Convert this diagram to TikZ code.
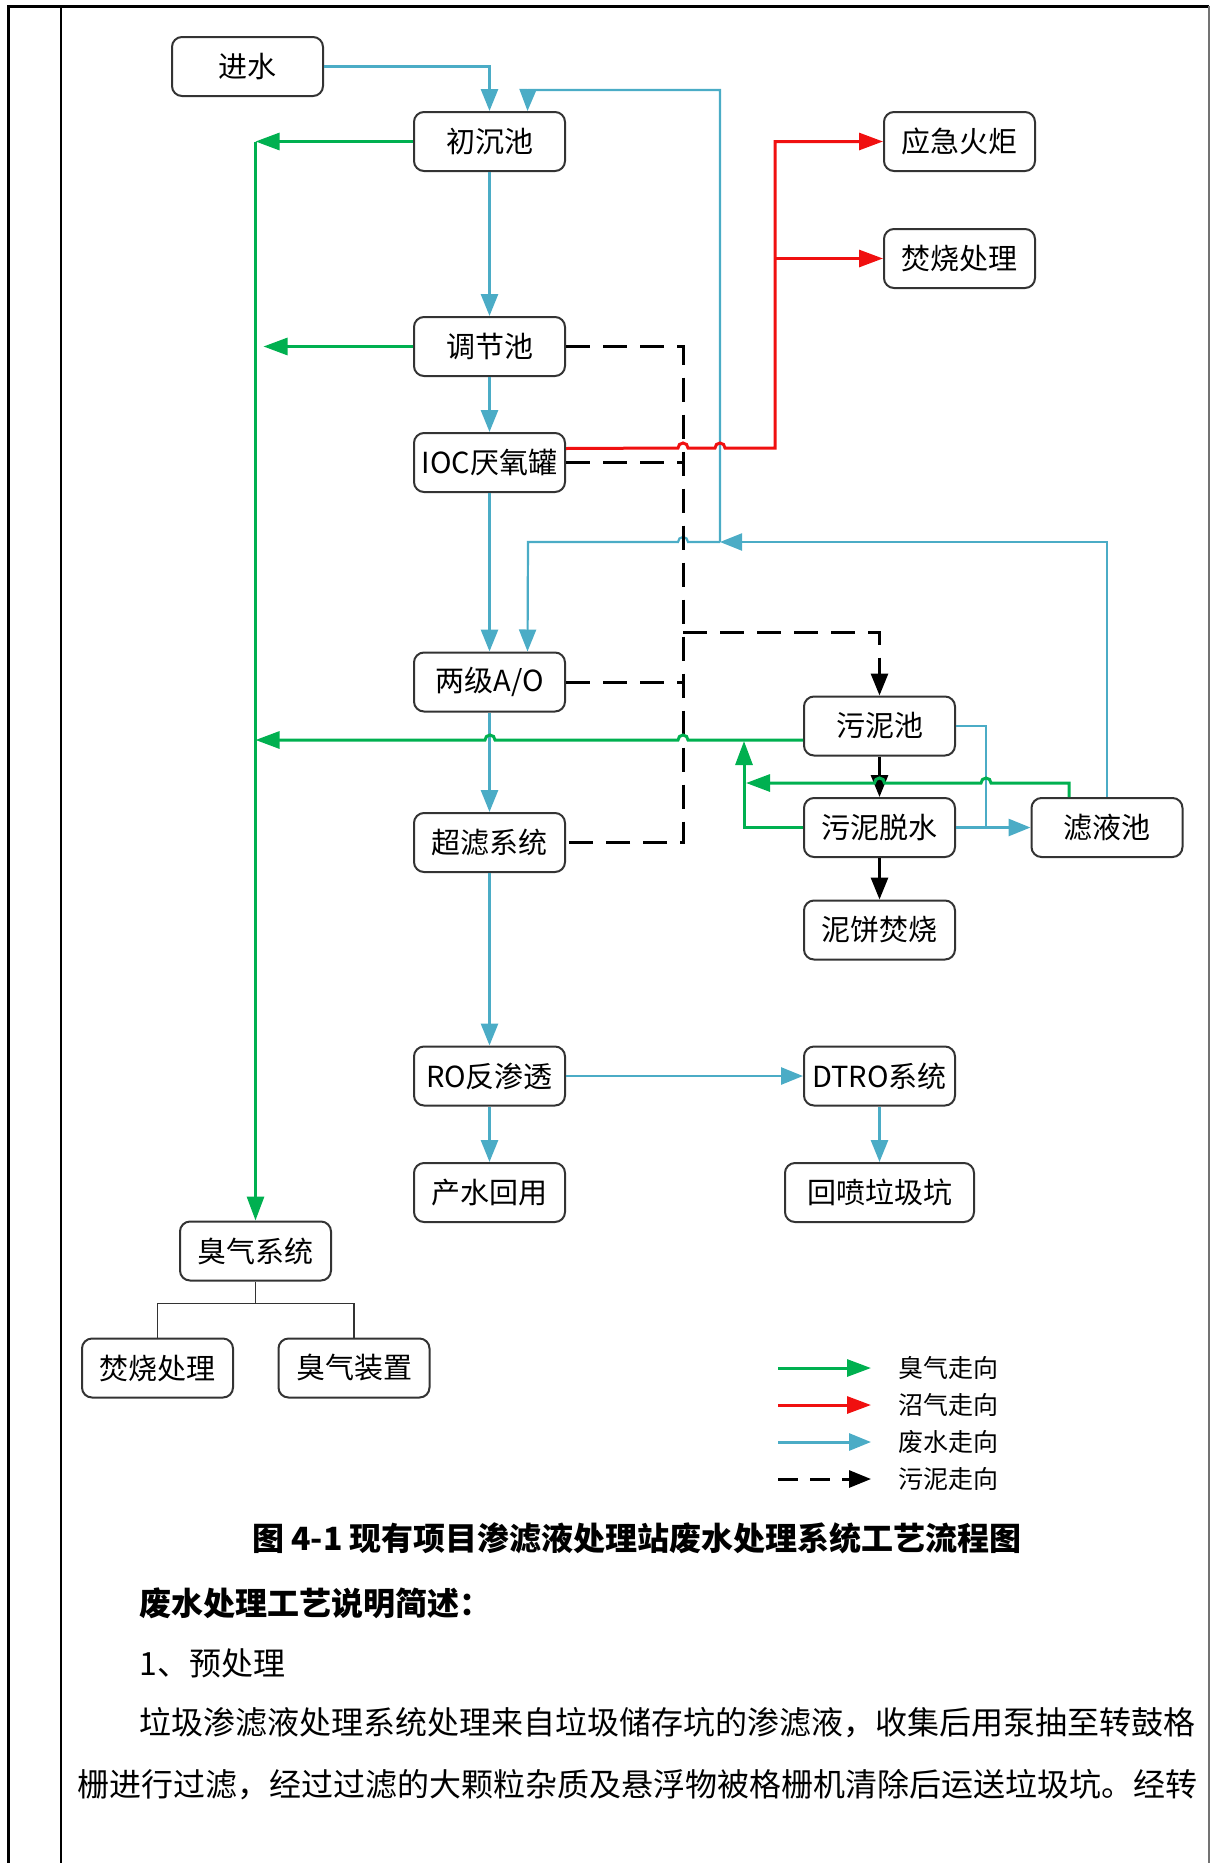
\documentclass[tikz,border=0pt]{standalone}
\usepackage{fontspec}
\setmainfont{Noto Sans CJK SC}
\usetikzlibrary{positioning,arrows.meta}

\definecolor{gasgreen}{HTML}{00B050}
\definecolor{biored}{HTML}{F01010}
\definecolor{waterblue}{HTML}{4BACC6}
\definecolor{boxline}{HTML}{333333}

\tikzset{
  unit/.style={draw=boxline, line width=1pt, rounded corners=5pt, fill=white,
    minimum width=75.5pt, minimum height=29.5pt, inner sep=0pt,
    font=\fontsize{14.5}{15}\selectfont},
  water/.style={draw=waterblue, line width=1.4pt, -{Triangle[length=11pt,width=8.5pt]}},
  waterline/.style={draw=waterblue, line width=1pt},
  gas/.style={draw=gasgreen, line width=1.5pt, -{Triangle[length=12pt,width=8.5pt]}},
  biogas/.style={draw=biored, line width=1.5pt, -{Triangle[length=12pt,width=8.5pt]}},
  sludgeline/.style={draw=black, line width=1.5pt, dash pattern=on 12pt off 6.5pt},
  sludgeflow/.style={sludgeline, -{Triangle[length=11pt,width=8.5pt]}},
  cakeflow/.style={draw=black, line width=1.5pt, -{Triangle[length=11pt,width=8.5pt]}},
  branch/.style={draw=boxline, line width=0.8pt},
  keytext/.style={anchor=west, inner sep=0pt, font=\fontsize{12.5}{13}\selectfont},
  bodytext/.style={anchor=west, inner sep=0pt, font=\fontsize{16}{16}\selectfont},
}

\begin{document}
\begin{tikzpicture}[x=0.5pt,y=-0.5pt]

            \useasboundingbox (0,0) rectangle (1211,1863);

            % Page frame of the table cell
            \draw[line width=1.5pt] (8,1863) -- (8,6) -- (1209,6);
            \draw[line width=0.6pt] (61,6) -- (61,1863);
            \draw[line width=0.6pt, black!55] (1209,6) -- (1209,1863);

            % Main water line
            \node[unit] (feed) at (247.5,66.5) {进水};
            \node[unit] (primary) at (489.5,141.5) {初沉池};
            \node[unit] (equal) at (489.5,346.5) {调节池};
            \node[unit] (ioc) at (489.5,462.5) {IOC厌氧罐};
            \node[unit] (ao) at (489.5,682) {两级A/O};
            \node[unit] (uf) at (489.5,842.5) {超滤系统};
            \node[unit] (ro) at (489.5,1076) {RO反渗透};
            \node[unit] (reuse) at (489.5,1192.5) {产水回用};
            \node[unit] (dtro) at (879.5,1076) {DTRO系统};
            \node[unit, minimum width=94.5pt] (spray) at (879.5,1192.5) {回喷垃圾坑};

            % Biogas outlets
            \node[unit] (flare) at (959.5,141.5) {应急火炬};
            \node[unit] (burnB) at (959.5,258.5) {焚烧处理};

            % Sludge line
            \node[unit] (sludge) at (879.5,726) {污泥池};
            \node[unit] (dewater) at (879.5,827.5) {污泥脱水};
            \node[unit] (filtrate) at (1107,827.5) {滤液池};
            \node[unit] (cake) at (879.5,930) {泥饼焚烧};

            % Odour system
            \node[unit] (odor) at (255.5,1251) {臭气系统};
            \node[unit] (burnA) at (157.5,1368) {焚烧处理};
            \node[unit] (deo) at (354,1368) {臭气装置};

            % Junction points
            \coordinate (rjoin) at (720,542);
            \coordinate (fjoin) at (986,827.5);
            \coordinate (rsplit) at (775,258.5);
            \coordinate (gT) at (255.5,740);
            \coordinate (gU) at (744,741);
            \coordinate (dsplit) at (683,632);

            % Waste water flow
            \draw[water] (feed.east) -| (primary.north);
            \draw[water] (primary) -- (equal);
            \draw[water] (equal) -- (ioc);
            \draw[water] (ioc) -- (ao);
            \draw[water] (ao) -- (uf);
            \draw[water] (uf) -- (ro);
            \draw[water] (ro) -- (reuse);
            \draw[water] (ro) -- (dtro);
            \draw[water] (dtro) -- (spray);
            \draw[water] (dewater) -- (filtrate);
            \draw[waterline, line width=0.8pt] (sludge.east) -| (fjoin);

            % Filtrate returned to the front
            \draw[water, line width=1.1pt] (filtrate.north) |- (rjoin);
            \draw[water, line width=1.1pt] (rjoin) -- (688,542) arc[start angle=0, end angle=180, radius=2.5pt]
                -- (528,542) -- ([xshift=19pt]ao.north);
            \draw[water, line width=1.1pt] (rjoin) -- (720,90) -- (528,90) -- ([xshift=19pt]primary.north);

            % Biogas
            \draw[biogas] ([yshift=7pt]ioc.east) -- (678,448) arc[start angle=180, end angle=0, radius=2.5pt]
                -- (715,448) arc[start angle=180, end angle=0, radius=2.5pt] -- (775,448) |- (flare);
            \draw[biogas] (rsplit) -- (burnB);

            % Sludge collection
            \draw[sludgeline] (equal) -| (683,842.5) -- (uf);
            \draw[sludgeline] (ioc) -- (683,462.5);
            \draw[sludgeline] (ao) -- (683,682);
            \draw[sludgeflow] (dsplit) -| (sludge.north);
            \draw[cakeflow] (sludge) -- (dewater);
            \draw[cakeflow] (dewater) -- (cake);

            % Odour collection
            \draw[gas] (primary) -- (primary -| odor);
            \draw[gas] (equal) -- ([xshift=4pt]equal -| odor);
            \draw[gas] (primary -| odor) -- (odor);
            \draw[gas] ([yshift=-7pt]sludge.west) -- (688,740) arc[start angle=0, end angle=180, radius=2.5pt]
                -- (495,740) arc[start angle=0, end angle=180, radius=2.5pt] -- (gT);
            \draw[gas] (dewater.west) -| (gU);
            \draw[gas] ([xshift=-19pt]filtrate.north) -- (1069,783) -- (991,783) arc[start angle=0, end angle=180, radius=2.5pt]
                -- (884.5,783) arc[start angle=0, end angle=180, radius=2.5pt] -- (746,783);
            \draw[branch] (odor.south) -- ++(0,22) -| (burnA.north);
            \draw[branch] (odor.south) ++(0,22) -| (deo.north);

            % Legend
            \node[keytext] (keyGas) at (898,1368) {臭气走向};
            \node[keytext] (keyBio) at (898,1405) {沼气走向};
            \node[keytext] (keyWater) at (898,1442) {废水走向};
            \node[keytext] (keySludge) at (898,1479) {污泥走向};
            \draw[gas] ([xshift=-60pt]keyGas.west) -- ([xshift=-13.5pt]keyGas.west);
            \draw[biogas] ([xshift=-60pt]keyBio.west) -- ([xshift=-13.5pt]keyBio.west);
            \draw[water, line width=1.5pt] ([xshift=-60pt]keyWater.west) -- ([xshift=-13.5pt]keyWater.west);
            \draw[sludgeflow, dash pattern=on 10pt off 6pt] ([xshift=-60pt]keySludge.west) -- ([xshift=-13.5pt]keySludge.west);

            % Caption and text below the figure
            \node[font=\fontsize{16}{16}\selectfont\bfseries] (caption) at (637,1538) {图 4-1 现有项目渗滤液处理站废水处理系统工艺流程图};
            \node[bodytext, font=\fontsize{16}{16}\selectfont\bfseries] (summary) at (139,1603) {废水处理工艺说明简述：};
            \node[bodytext] (step1) at (139,1663) {1、预处理};
            \node[bodytext] (para1) at (139,1723) {垃圾渗滤液处理系统处理来自垃圾储存坑的渗滤液，收集后用泵抽至转鼓格};
            \node[bodytext] (para2) at (77,1785) {栅进行过滤，经过过滤的大颗粒杂质及悬浮物被格栅机清除后运送垃圾坑。经转};

\end{tikzpicture}
\end{document}
